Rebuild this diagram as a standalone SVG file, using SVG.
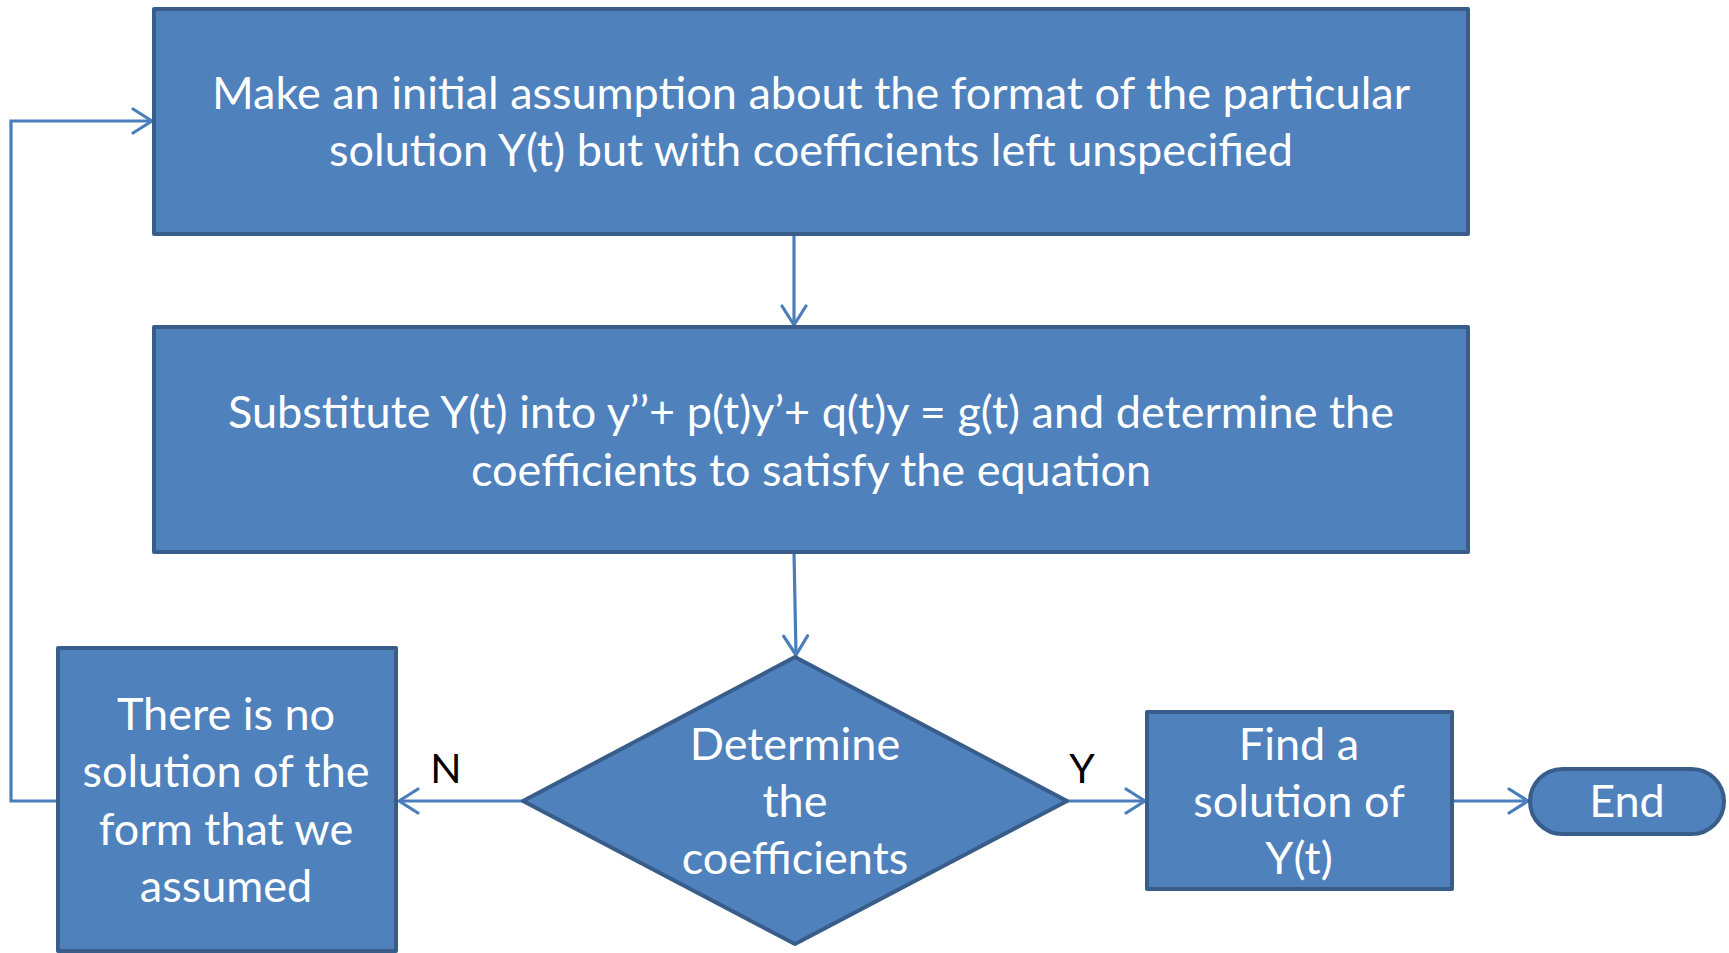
<svg xmlns="http://www.w3.org/2000/svg" width="1729" height="953" viewBox="0 0 1729 953">
<defs>
<style>
.node{fill:#4F81BD;stroke:#385D8A;stroke-width:4;stroke-linejoin:round}
.t{font-family:Lato,"Open Sans","Liberation Sans",sans-serif;font-size:45px;fill:#FFFFFF;text-anchor:middle}
.lbl{font-family:Lato,"Open Sans","Liberation Sans",sans-serif;font-size:41px;fill:#000000;text-anchor:middle}
.c{fill:none;stroke:#4A7EBB;stroke-width:3.2}
</style>
<marker id="arr" markerUnits="userSpaceOnUse" viewBox="-22 -14 24 28" refX="0" refY="0" markerWidth="24" markerHeight="28" orient="auto">
<path d="M-19,-12 L0,0 L-19,12" fill="none" stroke="#4A7EBB" stroke-width="3.2" stroke-linecap="round" stroke-linejoin="round"/>
</marker>
</defs>
<rect width="1729" height="953" fill="#FFFFFF"/>
<g id="connectors">
<path class="c" d="M794,234 L794,325" marker-end="url(#arr)"/>
<path class="c" d="M794,552 L796,655" marker-end="url(#arr)"/>
<path class="c" d="M523,801 L399,801" marker-end="url(#arr)"/>
<path class="c" d="M1067,801 L1145,801" marker-end="url(#arr)"/>
<path class="c" d="M1452,801 L1528,801" marker-end="url(#arr)"/>
<path class="c" d="M58,801 L11,801 L11,121 L152,121" marker-end="url(#arr)"/>
<text class="lbl" x="446" y="783">N</text>
<text class="lbl" x="1082" y="783">Y</text>
</g>
<g id="assume">
<rect class="node" x="154" y="9" width="1314" height="225"/>
<text class="t" x="811" y="109">Make an initial assumption about the format of the particular</text>
<text class="t" x="811" y="166">solution Y(t) but with coefficients left unspecified</text>
</g>
<g id="substitute">
<rect class="node" x="154" y="327" width="1314" height="225"/>
<text class="t" x="811" y="428">Substitute Y(t) into y’’+ p(t)y’+ q(t)y = g(t) and determine the</text>
<text class="t" x="811" y="486">coefficients to satisfy the equation</text>
</g>
<g id="decision">
<polygon class="node" points="795,657 1067,801 795,944 523,801"/>
<text class="t" x="795" y="760">Determine</text>
<text class="t" x="795" y="817">the</text>
<text class="t" x="795" y="874">coefficients</text>
</g>
<g id="nosolution">
<rect class="node" x="58" y="648" width="338" height="303"/>
<text class="t" x="226" y="730">There is no</text>
<text class="t" x="226" y="787">solution of the</text>
<text class="t" x="226" y="845">form that we</text>
<text class="t" x="226" y="902">assumed</text>
</g>
<g id="find">
<rect class="node" x="1147" y="712" width="305" height="177"/>
<text class="t" x="1299" y="760">Find a</text>
<text class="t" x="1299" y="817">solution of</text>
<text class="t" x="1299" y="874">Y(t)</text>
</g>
<g id="end">
<rect class="node" x="1530" y="769" width="194" height="65" rx="32.5" ry="32.5"/>
<text class="t" x="1627" y="817">End</text>
</g>
</svg>
